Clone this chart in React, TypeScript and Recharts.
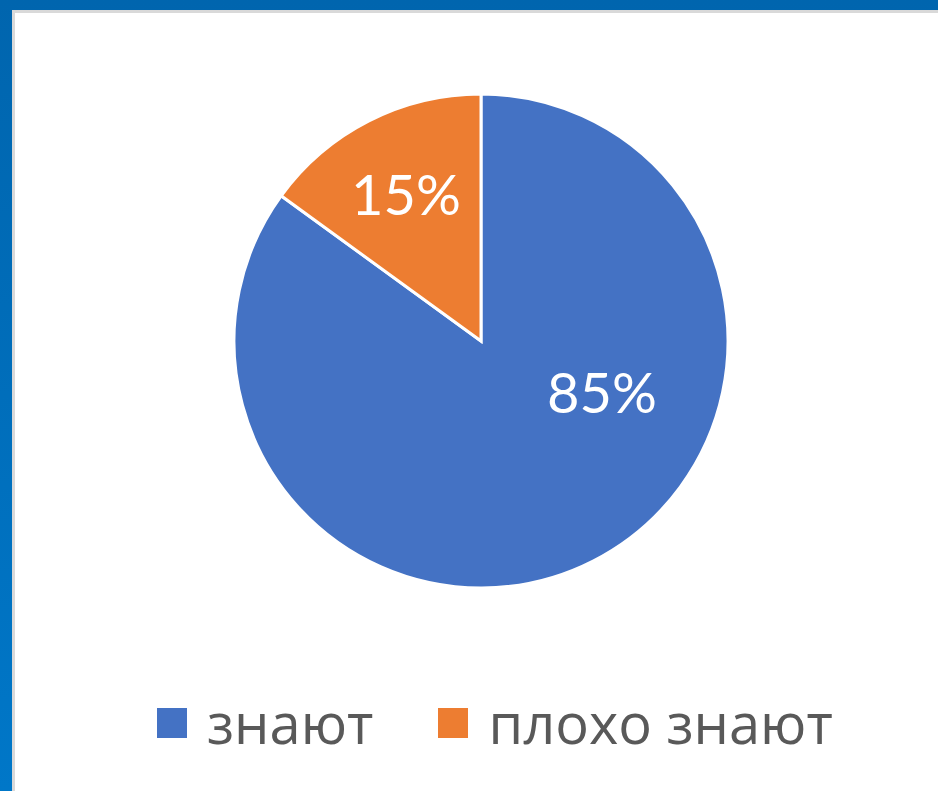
import React from 'react';
import { PieChart, Pie, Cell } from 'recharts';

const categories = ['знают', 'плохо знают'];
const values = [85, 15];
const colors = ['#4472C4', '#ED7D31'];

const data = categories.map((name, i) => ({ name, value: values[i] }));

const RAD = Math.PI / 180;

const renderLabel = (props: any) => {
  const { cx, cy, midAngle, outerRadius, index, percent } = props;
  // Excel "best fit" style placement
  const place = index === 0 ? { angle: -22.5, f: 0.53 } : { angle: midAngle, f: 0.67 };
  const r = outerRadius * place.f;
  const x = cx + r * Math.cos(-place.angle * RAD);
  const y = cy + r * Math.sin(-place.angle * RAD);
  return (
    <text
      x={x}
      y={y}
      fill="#ffffff"
      textAnchor="middle"
      dominantBaseline="central"
      fontFamily="Lato, 'Open Sans', sans-serif"
      fontSize={56}
    >
      {`${Math.round(percent * 100)}%`}
    </text>
  );
};

const LegendBox = () => (
  <div style={{ position: 'absolute', left: 157, top: 694, display: 'flex', alignItems: 'center' }}>
    {categories.map((c, i) => (
      <div key={c} style={{ display: 'flex', alignItems: 'center', marginRight: i === 0 ? 65 : 0 }}>
        <div style={{ width: 30, height: 30, background: colors[i], marginRight: 20, marginTop: 2 }} />
        <span style={{ fontFamily: "'Open Sans', sans-serif", fontSize: 56, color: '#595959', lineHeight: 1 }}>{c}</span>
      </div>
    ))}
  </div>
);

export default function App() {
  return (
    <div
      style={{
        position: 'absolute',
        left: 0,
        top: 0,
        width: 938,
        height: 791,
        background: 'linear-gradient(to bottom, #0065ae, #0077c8)',
        overflow: 'hidden',
      }}
    >
      <div
        style={{
          position: 'absolute',
          left: 12,
          top: 10,
          width: 940,
          height: 800,
          background: '#ffffff',
          borderLeft: '3px solid #d9d9d9',
          borderTop: '3px solid #d9d9d9',
        }}
      />
      <div style={{ position: 'absolute', left: 0, top: 0 }}>
        <PieChart width={938} height={680} margin={{ top: 0, right: 0, bottom: 0, left: 0 }}>
          <Pie
            data={data}
            dataKey="value"
            nameKey="name"
            cx={481}
            cy={341}
            outerRadius={247}
            startAngle={90}
            endAngle={-270}
            stroke="#ffffff"
            strokeWidth={3}
            label={renderLabel}
            labelLine={false}
            isAnimationActive={false}
          >
            {data.map((d, i) => (
              <Cell key={d.name} fill={colors[i]} />
            ))}
          </Pie>
        </PieChart>
      </div>
      <LegendBox />
    </div>
  );
}
